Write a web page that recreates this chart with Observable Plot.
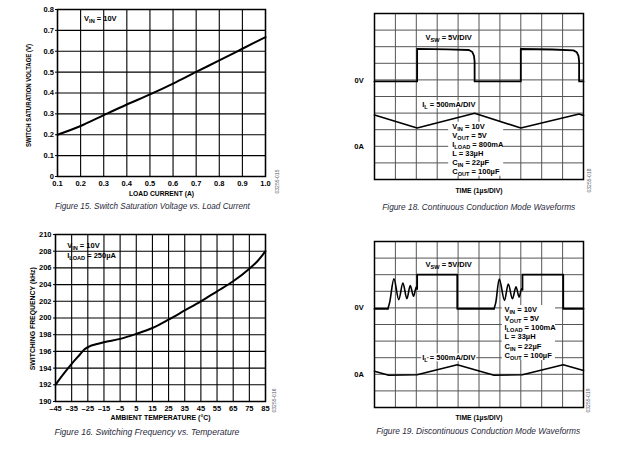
<!DOCTYPE html>
<html><head><meta charset="utf-8">
<script src="https://cdn.jsdelivr.net/npm/d3@7"></script>
<script src="https://cdn.jsdelivr.net/npm/@observablehq/plot@0.6"></script>
<style>
html,body{margin:0;padding:0;background:#fff;}
#page{position:relative;width:620px;height:453px;overflow:hidden;background:#fff;}
.panel{position:absolute;}
.panel svg{overflow:visible;background:transparent;}
.cap{position:absolute;width:300px;text-align:center;white-space:nowrap;font-family:"Liberation Sans",Arial,sans-serif;font-style:italic;font-size:9px;line-height:11px;color:#2a2a3c;}
.cap span{display:inline-block;transform-origin:50% 50%;}
</style></head><body>
<div id="page">
  <div class="panel" id="p1" style="left:0;top:0"></div>
  <div class="panel" id="p2" style="left:300px;top:0"></div>
  <div class="panel" id="p3" style="left:0;top:220px"></div>
  <div class="panel" id="p4" style="left:300px;top:220px"></div>
  <div class="cap" data-w="195" style="left:2.7px;top:201.2px"><span>Figure 15. Switch Saturation Voltage vs. Load Current</span></div>
  <div class="cap" data-w="193" style="left:328.3px;top:201.8px"><span>Figure 18. Continuous Conduction Mode Waveforms</span></div>
  <div class="cap" data-w="185" style="left:-2.7px;top:426.8px"><span>Figure 16. Switching Frequency vs. Temperature</span></div>
  <div class="cap" data-w="204" style="left:328px;top:426.2px"><span>Figure 19. Discontinuous Conduction Mode Waveforms</span></div>
</div>
<script>
const FONT = '"Liberation Sans",Arial,sans-serif';
const baseStyle = {fontFamily: FONT, fontSize: "7.5px", fontWeight: "bold", color: "#000", background: "transparent", overflow: "visible"};

// ---- Figure 15: switch saturation voltage vs load current
const loadCurrent = [0.1, 0.2, 0.3, 0.4, 0.5, 0.6, 0.7, 0.8, 0.9, 1.0];
const satVoltage  = [0.200, 0.242, 0.294, 0.345, 0.393, 0.445, 0.501, 0.556, 0.612, 0.668];
const loadTicks = [0.1, 0.2, 0.3, 0.4, 0.5, 0.6, 0.7, 0.8, 0.9, 1.0];
const satTicks  = [0, 0.1, 0.2, 0.3, 0.4, 0.5, 0.6, 0.7, 0.8];

// ---- Figure 16: switching frequency vs temperature
const ambientTemp = [-45, -40, -35, -30, -27, -24, -20, -15, -5, 5, 15, 25, 35, 45, 55, 65, 75, 80, 85];
const switchFreq  = [192.0, 193.3, 194.5, 195.6, 196.25, 196.6, 196.85, 197.1, 197.5, 198.1, 198.8, 199.8, 200.9, 202.0, 203.2, 204.4, 205.9, 206.8, 208.0];
const tempTicks = [-45, -35, -25, -15, -5, 5, 15, 25, 35, 45, 55, 65, 75, 85];
const freqTicks = [190, 192, 194, 196, 198, 200, 202, 204, 206, 208, 210];

// ---- oscilloscope panels (units: divisions)
const divisions = [0, 1, 2, 3, 4, 5, 6, 7, 8, 9, 10];
const levelLabels = ["0V", "0A"];

// Figure 18: continuous conduction mode
const ccmSwT = [0, 2.04, 2.04, 3.5, 4.52, 4.68, 4.76, 4.79, 4.79, 7.0, 7.0, 8.5, 9.52, 9.68, 9.76, 9.79, 9.79, 10];
const ccmSwV = [5.91, 5.91, 7.87, 7.84, 7.8, 7.68, 7.45, 7.1, 5.91, 5.91, 7.86, 7.83, 7.78, 7.66, 7.45, 7.1, 5.91, 5.91];
const ccmIlT = [0, 2.04, 4.79, 7.0, 9.79, 10];
const ccmIlV = [3.88, 3.1, 3.99, 3.1, 3.95, 3.85];
const ccmNotes = ["V_{IN} = 10V", "V_{OUT} = 5V", "I_{LOAD} = 800mA", "L = 33µH", "C_{IN} = 22µF", "C_{OUT} = 100µF"];

// Figure 19: discontinuous conduction mode
const dcmSwT = [0, 0.64, NaN, 2.04, 2.04, 3.96, 3.96, 5.72, NaN, 7.08, 7.08, 9.03, 9.03, 10];
const dcmSwV = [5.95, 5.95, NaN, 7.15, 8.0, 8.0, 5.95, 5.95, NaN, 7.1, 8.0, 8.0, 5.95, 5.95];
const dcmRingT = [0.64, 0.72, 0.93, 1.16, 1.36, 1.55, 1.71, 1.87, 2.0, 2.04, NaN, 5.72, 5.8, 5.97, 6.22, 6.4, 6.6, 6.77, 6.92, 7.04, 7.08];
const dcmRingV = [5.95, 6.3, 7.75, 6.5, 7.5, 6.55, 7.35, 6.7, 7.25, 7.15, NaN, 5.95, 6.3, 7.74, 6.45, 7.44, 6.55, 7.27, 6.65, 7.15, 7.1];
const dcmIlT = [0, 0.68, 2.04, 3.96, 5.72, 7.08, 9.03, 10];
const dcmIlV = [2.19, 1.94, 1.97, 2.58, 1.94, 1.97, 2.58, 2.23];
const dcmNotes = ["V_{IN} = 10V", "V_{OUT} = 5V", "I_{LOAD} = 100mA", "L = 33µH", "C_{IN} = 22µF", "C_{OUT} = 100µF"];

// target rendered lengths of the axis titles (px)
const titleLengths = {
  "LOAD CURRENT (A)": 65,
  "SWITCH SATURATION VOLTAGE (V)": 103,
  "AMBIENT TEMPERATURE (°C)": 100,
  "SWITCHING FREQUENCY (kHz)": 103,
  "TIME (1µs/DIV)": 47
};

function fitTitles(svg) {
  svg.querySelectorAll("text").forEach(t => {
    const w = titleLengths[t.textContent];
    if (w) { t.setAttribute("textLength", w); t.setAttribute("lengthAdjust", "spacingAndGlyphs"); }
  });
  return svg;
}

function applySubs(svg) {
  const NS = "http://www.w3.org/2000/svg";
  svg.querySelectorAll("text").forEach(t => {
    const s = t.textContent;
    if (!s.includes("_{")) return;
    while (t.firstChild) t.removeChild(t.firstChild);
    const re = /_\{([^}]*)\}/g;
    let last = 0, m, shifted = false;
    const add = (str, isSub) => {
      if (!str) return;
      const ts = document.createElementNS(NS, "tspan");
      ts.textContent = str;
      if (isSub) { ts.setAttribute("font-size", "75%"); ts.setAttribute("dy", "2"); shifted = true; }
      else if (shifted) { ts.setAttribute("dy", "-2"); shifted = false; }
      t.appendChild(ts);
    };
    while ((m = re.exec(s))) { add(s.slice(last, m.index), false); add(m[1], true); last = re.lastIndex; }
    add(s.slice(last), false);
  });
  return svg;
}

const codeStyle = {rotate: -90, fontSize: 5, fontWeight: "normal", fill: "#556", textAnchor: "middle", lineAnchor: "middle"};
const titleStyle = {textAnchor: "middle", lineAnchor: "middle"};
const TICK_FS = 7.5;

// Panel 1
const p1 = Plot.plot({
  width: 290, height: 200, marginLeft: 57, marginRight: 25, marginTop: 9, marginBottom: 24,
  style: baseStyle,
  x: {domain: [0.1, 1.0], label: null},
  y: {domain: [0, 0.8], label: null},
  marks: [
    Plot.ruleX(loadTicks, {stroke: "#000", strokeWidth: 1.1}),
    Plot.ruleY(satTicks, {stroke: "#000", strokeWidth: 1.1}),
    Plot.axisX(loadTicks, {tickSize: 0, tickPadding: 4.2, fontSize: TICK_FS, tickFormat: d => d.toFixed(1), label: null}),
    Plot.axisY(satTicks, {tickSize: 2, tickPadding: 1.5, fontSize: TICK_FS, tickFormat: d => d === 0 ? "0" : d.toFixed(1), label: null}),
    Plot.frame({stroke: "#000", strokeWidth: 1.5}),
    Plot.line(loadCurrent, {x: loadCurrent, y: satVoltage, curve: "monotone-x", stroke: "#000", strokeWidth: 2}),
    Plot.text(["V_{IN} = 10V"], {x: 0.215, y: 0.755, textAnchor: "start"}),
    Plot.text(["LOAD CURRENT (A)"], {frameAnchor: "bottom", dy: 16.9, ...titleStyle}),
    Plot.text(["SWITCH SATURATION VOLTAGE (V)"], {frameAnchor: "left", dx: -28.7, dy: 2.5, rotate: -90, ...titleStyle}),
    Plot.text(["03255-015"], {frameAnchor: "bottom-right", dx: 11.7, dy: 5, ...codeStyle})
  ]
});
document.getElementById("p1").append(applySubs(fitTitles(p1)));

// Panel 3
const p3 = Plot.plot({
  width: 290, height: 210, marginLeft: 55, marginRight: 25, marginTop: 14, marginBottom: 29,
  style: baseStyle,
  x: {domain: [-45, 85], label: null},
  y: {domain: [190, 210], label: null},
  marks: [
    Plot.ruleX(tempTicks, {stroke: "#000", strokeWidth: 1.1}),
    Plot.ruleY(freqTicks, {stroke: "#000", strokeWidth: 1.1}),
    Plot.axisX(tempTicks, {tickSize: 0, tickPadding: 4.2, fontSize: TICK_FS, tickFormat: d => d < 0 ? "\u2013" + (-d) : "" + d, label: null}),
    Plot.axisY(freqTicks, {tickSize: 2, tickPadding: 2, fontSize: TICK_FS, tickFormat: d => "" + d, label: null}),
    Plot.frame({stroke: "#000", strokeWidth: 1.5}),
    Plot.line(ambientTemp, {x: ambientTemp, y: switchFreq, curve: "monotone-x", stroke: "#000", strokeWidth: 2}),
    Plot.text(["V_{IN} = 10V", "I_{LOAD} = 250µA"], {x: -37.8, y: [208.7, 207.5], textAnchor: "start"}),
    Plot.text(["AMBIENT TEMPERATURE (°C)"], {frameAnchor: "bottom", dy: 15.9, ...titleStyle}),
    Plot.text(["SWITCHING FREQUENCY (kHz)"], {frameAnchor: "left", dx: -23.3, dy: 0.8, rotate: -90, ...titleStyle}),
    Plot.text(["03255-016"], {frameAnchor: "bottom-right", dx: 9, dy: -1, ...codeStyle})
  ]
});
document.getElementById("p3").append(applySubs(fitTitles(p3)));

function scopePlot(cfg) {
  const ilLabel = ["I_{L} = 500mA/DIV"];
  return Plot.plot({
    width: 320, height: cfg.height, marginLeft: 74, marginRight: 37, marginTop: cfg.top, marginBottom: cfg.bottom,
    style: baseStyle,
    x: {domain: [0, 10], axis: null},
    y: {domain: [0, 10], axis: null},
    marks: [
      Plot.ruleX(divisions, {stroke: "#555", strokeWidth: 1}),
      Plot.ruleY(divisions, {stroke: "#555", strokeWidth: 1}),
      Plot.frame({stroke: "#000", strokeWidth: 1.5}),
      Plot.rect([0], {x1: cfg.box[0], x2: cfg.box[1], y1: cfg.box[2], y2: cfg.box[3], fill: "#fff"}),
      Plot.line(cfg.ilT, {x: cfg.ilT, y: cfg.ilV, stroke: "#000", strokeWidth: 1.6, strokeLinejoin: "round"}),
      Plot.line(cfg.swT, {x: cfg.swT, y: cfg.swV, stroke: "#000", strokeWidth: 1.8, strokeLinejoin: "round"}),
      ...(cfg.ringT ? [Plot.line(cfg.ringT, {x: cfg.ringT, y: cfg.ringV, curve: "monotone-x", stroke: "#000", strokeWidth: 1.6})] : []),
      Plot.text(levelLabels, {x: 0, y: cfg.levels, textAnchor: "end", dx: -10.7}),
      Plot.text(["V_{SW} = 5V/DIV"], {x: 2.44, y: cfg.swLabelY, textAnchor: "start"}),
      Plot.text(ilLabel, {x: 2.28, y: cfg.ilLabelY, textAnchor: "start", stroke: "#fff", strokeWidth: 3, fill: "#fff"}),
      Plot.text(ilLabel, {x: 2.28, y: cfg.ilLabelY, textAnchor: "start", fill: "#000"}),
      Plot.text(cfg.notes, {x: cfg.noteX, y: (d, i) => cfg.noteY0 - i * cfg.noteStep, textAnchor: "start"}),
      Plot.text(["TIME (1µs/DIV)"], {frameAnchor: "bottom", dy: cfg.timeDy, ...titleStyle}),
      Plot.text([cfg.code], {frameAnchor: "bottom-right", dx: cfg.codeDx, dy: cfg.codeDy, ...codeStyle})
    ]
  });
}

const p2 = scopePlot({
  height: 200, top: 13, bottom: 21,
  swT: ccmSwT, swV: ccmSwV, ilT: ccmIlT, ilV: ccmIlV,
  levels: [5.96, 1.99], swLabelY: 8.54, ilLabelY: 4.52,
  box: [3.55, 6.18, 0.2, 3.45],
  notes: ccmNotes, noteX: 3.72, noteY0: 3.19, noteStep: 0.542,
  timeDy: 11, code: "03255-018", codeDx: 6, codeDy: 1
});
document.getElementById("p2").append(applySubs(fitTitles(p2)));

const p4 = scopePlot({
  height: 205, top: 21, bottom: 18,
  swT: dcmSwT, swV: dcmSwV, ringT: dcmRingT, ringV: dcmRingV, ilT: dcmIlT, ilV: dcmIlV,
  levels: [6.0, 1.99], swLabelY: 8.61, ilLabelY: 3.03,
  box: [6.11, 8.66, 2.83, 6.14],
  notes: dcmNotes, noteX: 6.22, noteY0: 5.89, noteStep: 0.548,
  timeDy: 10.3, code: "03255-019", codeDx: 5, codeDy: -7
});
document.getElementById("p4").append(applySubs(fitTitles(p4)));

function fitCaptions() {
  document.querySelectorAll(".cap").forEach(c => {
    const s = c.querySelector("span");
    s.style.transform = "none";
    const w = s.getBoundingClientRect().width;
    const target = +c.dataset.w;
    if (w > 0) s.style.transform = `scaleX(${target / w})`;
  });
}
fitCaptions();
if (document.fonts && document.fonts.ready) document.fonts.ready.then(fitCaptions);
</script>
</body></html>
